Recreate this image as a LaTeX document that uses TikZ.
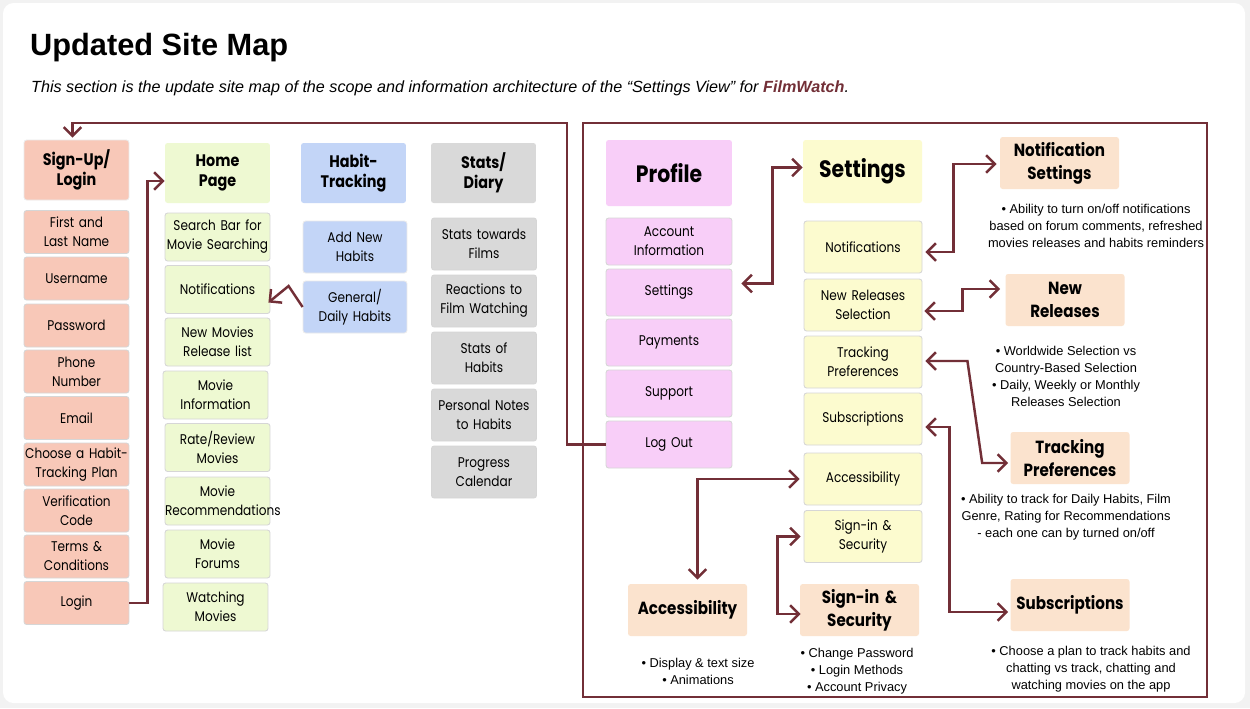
\documentclass[tikz,border=0pt]{standalone}
\usepackage{fontspec}
\setmainfont{Liberation Sans}
\newfontfamily\boxfont[FakeStretch=0.86]{Poppins}
\usetikzlibrary{arrows.meta,calc}

\definecolor{wine}{HTML}{722F37}
\definecolor{salmon}{HTML}{F8C8B8}
\definecolor{lime}{HTML}{EEF9D2}
\definecolor{sky}{HTML}{C3D5F7}
\definecolor{ash}{HTML}{D9D9D9}
\definecolor{orchid}{HTML}{F8CEF8}
\definecolor{cream}{HTML}{FCFBCF}
\definecolor{peach}{HTML}{FBE3CE}

\tikzset{
  barb/.tip={Straight Barb[length=5pt,width=10pt]},
  link/.style={draw=wine, line width=1.4pt},
  cell/.style={rectangle, rounded corners=1.5pt, align=center, inner xsep=0pt, inner ysep=1pt,
    font=\boxfont\fontsize{8}{10.8}\selectfont},
  item/.style={cell, draw=black!16, line width=0.5pt},
  head/.style={cell, font=\boxfont\bfseries\fontsize{9.5}{11.5}\selectfont},
  bighead/.style={cell, font=\boxfont\bfseries\fontsize{13.5}{16}\selectfont},
  detail/.style={cell, fill=peach, text width=2.38cm, minimum height=1.04cm,
    font=\boxfont\bfseries\fontsize{10}{13}\selectfont},
  note/.style={align=center, font=\fontsize{7.3}{9.6}\selectfont},
}

\begin{document}
\begin{tikzpicture}[x=0.02cm, y=-0.02cm]
    \useasboundingbox (0,0) rectangle (1250,708);
    \fill[black!5] (0,0) rectangle (1250,708);
    \fill[white, rounded corners=6pt] (3,3) rectangle (1245,703);

    \node[anchor=base west, font=\bfseries\fontsize{17.5}{20}\selectfont] (title) at (24,55) {Updated Site Map};
    \node[anchor=base west, font=\itshape\fontsize{9.2}{11}\selectfont] (subtitle) at (25,92)
        {This section is the update site map of the scope and information architecture of the “Settings View” for \textcolor{wine}{\textbf{FilmWatch}}.};

    % sign-up / login
    \node[item, head, draw=black!8, fill=salmon, text width=2.1cm, minimum height=1.2cm] (signup) at (76.5,170) {Sign-Up/\\Login};
    \node[item, fill=salmon, text width=2.1cm, minimum height=0.86cm] (fname) at (76.5,232) {First and\\Last Name};
    \node[item, fill=salmon, text width=2.1cm, minimum height=0.86cm] (uname) at (76.5,278.5) {Username};
    \node[item, fill=salmon, text width=2.1cm, minimum height=0.86cm] (pword) at (76.5,325.5) {Password};
    \node[item, fill=salmon, text width=2.1cm, minimum height=0.86cm] (phone) at (76.5,371.5) {Phone\\Number};
    \node[item, fill=salmon, text width=2.1cm, minimum height=0.86cm] (email) at (76.5,418) {Email};
    \node[item, fill=salmon, text width=2.1cm, minimum height=0.86cm] (plan) at (76.5,464.5) {Choose a Habit-\\Tracking Plan};
    \node[item, fill=salmon, text width=2.1cm, minimum height=0.86cm] (vcode) at (76.5,510.5) {Verification\\Code};
    \node[item, fill=salmon, text width=2.1cm, minimum height=0.86cm] (terms) at (76.5,556.5) {Terms \&\\Conditions};
    \node[item, fill=salmon, text width=2.1cm, minimum height=0.86cm] (login) at (76.5,603) {Login};

    % home page
    \node[head, fill=lime, text width=2.1cm, minimum height=1.2cm] (home) at (217.5,173) {Home\\Page};
    \node[item, fill=lime, text width=2.1cm, minimum height=0.96cm] (search) at (217.5,237) {Search Bar for\\Movie Searching};
    \node[item, fill=lime, text width=2.1cm, minimum height=0.96cm] (hnotif) at (217.5,289.5) {Notifications};
    \node[item, fill=lime, text width=2.1cm, minimum height=0.96cm] (newmov) at (217.5,342) {New Movies\\Release list};
    \node[item, fill=lime, text width=2.1cm, minimum height=0.96cm] (movinfo) at (215.5,395) {Movie\\Information};
    \node[item, fill=lime, text width=2.1cm, minimum height=0.96cm] (rate) at (217.5,447.5) {Rate/Review\\Movies};
    \node[item, fill=lime, text width=2.1cm, minimum height=0.96cm] (recom) at (217.5,501) {Movie\\Recommendations};
    \node[item, fill=lime, text width=2.1cm, minimum height=0.96cm] (forums) at (217.5,554) {Movie\\Forums};
    \node[item, fill=lime, text width=2.1cm, minimum height=0.96cm] (watch) at (215.5,607) {Watching\\Movies};

    % habit tracking
    \node[head, fill=sky, text width=2.1cm, minimum height=1.2cm] (habit) at (353.5,173) {Habit-\\Tracking};
    \node[item, draw=black!8, fill=sky, text width=2.08cm, minimum height=1.04cm] (addhab) at (355,247) {Add New\\Habits};
    \node[item, draw=black!8, fill=sky, text width=2.08cm, minimum height=1.04cm] (general) at (355,307) {General/\\Daily Habits};

    % stats / diary
    \node[head, fill=ash, text width=2.1cm, minimum height=1.2cm] (stats) at (483.5,173) {Stats/\\Diary};
    \node[item, fill=ash, text width=2.1cm, minimum height=1.04cm] (films) at (484,244) {Stats towards\\Films};
    \node[item, fill=ash, text width=2.1cm, minimum height=1.04cm] (react) at (484,301) {Reactions to\\Film Watching};
    \node[item, fill=ash, text width=2.1cm, minimum height=1.04cm] (shabit) at (484,358) {Stats of\\Habits};
    \node[item, fill=ash, text width=2.1cm, minimum height=1.04cm] (pnotes) at (484,415) {Personal Notes\\to Habits};
    \node[item, fill=ash, text width=2.1cm, minimum height=1.04cm] (calendar) at (484,472) {Progress\\Calendar};

    % profile
    \node[bighead, fill=orchid, text width=2.52cm, minimum height=1.32cm] (profile) at (669,173) {Profile};
    \node[item, fill=orchid, text width=2.52cm, minimum height=0.94cm] (account) at (669,241.5) {Account\\Information};
    \node[item, fill=orchid, text width=2.52cm, minimum height=0.94cm] (psettings) at (669,292.5) {Settings};
    \node[item, fill=orchid, text width=2.52cm, minimum height=0.94cm] (payments) at (669,342.5) {Payments};
    \node[item, fill=orchid, text width=2.52cm, minimum height=0.94cm] (support) at (669,393.5) {Support};
    \node[item, fill=orchid, text width=2.52cm, minimum height=0.94cm] (logout) at (669,444.5) {Log Out};

    % settings
    \node[bighead, fill=cream, text width=2.38cm, minimum height=1.26cm] (settings) at (862.5,171.5) {Settings};
    \node[item, fill=cream, text width=2.36cm, minimum height=1.04cm] (snotif) at (863,247) {Notifications};
    \node[item, fill=cream, text width=2.36cm, minimum height=1.04cm] (snewrel) at (863,305) {New Releases\\Selection};
    \node[item, fill=cream, text width=2.36cm, minimum height=1.04cm] (strack) at (863,362) {Tracking\\Preferences};
    \node[item, fill=cream, text width=2.36cm, minimum height=1.04cm] (ssubs) at (863,419) {Subscriptions};
    \node[item, fill=cream, text width=2.36cm, minimum height=1.04cm] (sacc) at (863,479) {Accessibility};
    \node[item, fill=cream, text width=2.36cm, minimum height=1.04cm] (ssign) at (863,536.5) {Sign-in \&\\Security};

    % detail boxes and notes
    \node[detail] (notifset) at (1059.5,163) {Notification\\Settings};
    \node[detail] (newrel) at (1065,300) {New\\Releases};
    \node[detail] (track) at (1070,458) {Tracking\\Preferences};
    \node[detail] (subs) at (1070,605) {Subscriptions};
    \node[detail] (acc) at (687.5,610) {Accessibility};
    \node[detail] (sign) at (859.5,610) {Sign-in \&\\Security};

    \node[note] (notifnote) at (1096,226) {\textbullet\ Ability to turn on/off notifications\\based on forum comments, refreshed\\movies releases and habits reminders};
    \node[note] (newrelnote) at (1066,376.5) {\textbullet\ Worldwide Selection vs\\Country-Based Selection\\\textbullet\ Daily, Weekly or Monthly\\Releases Selection};
    \node[note] (tracknote) at (1066,517) {\textbullet\ Ability to track for Daily Habits, Film\\Genre, Rating for Recommendations\\- each one can by turned on/off};
    \node[note] (subsnote) at (1091,669) {\textbullet\ Choose a plan to track habits and\\chatting vs track, chatting and\\watching movies on the app};
    \node[note] (accnote) at (698,671.5) {\textbullet\ Display \& text size\\\textbullet\ Animations};
    \node[note] (signnote) at (857,671) {\textbullet\ Change Password\\\textbullet\ Login Methods\\\textbullet\ Account Privacy};

    % frame and connectors
    \draw[wine, line width=1.4pt] (583,123) rectangle (1207,697);
    \coordinate (loop) at (567,123);
    \draw[link, -barb] (login.east) -- ++(18,0) |- ($(home.west)+(0,8)$);
    \draw[link, -barb] (logout.west) -| (loop) -| ($(signup.north)+(-4,-2)$);
    \draw[link, -barb] (general.west) -- ++(-14,-21) -- ($(hnotif.east)+(-2,13)$);
    \draw[link, barb-barb] ($(psettings.east)+(9,-9)$) -- ++(31,0) |- ($(settings.west)+(0,-4)$);
    \draw[link, barb-barb] ($(snotif.east)+(3,5)$) -- ++(28,0) |- ($(notifset.west)+(-3,1)$);
    \draw[link, barb-barb] ($(snewrel.east)+(2,6)$) -- ++(38,0) |- ($(newrel.west)+(-5,-11)$);
    \draw[link, barb-barb] ($(strack.east)+(3,-1)$) -- ++(42,0) -- ($(track.west)+(-28,5)$) -- ($(track.west)+(-2,5)$);
    \draw[link, barb-barb] ($(ssubs.east)+(3,8)$) -- ++(24,0) |- ($(subs.west)+(-2,7)$);
    \draw[link, barb-barb] ($(sacc.west)+(-4,0)$) -| ($(acc.north)+(10,-4)$);
    \draw[link, barb-barb] ($(ssign.west)+(-3,0)$) -- ++(-23,0) |- ($(sign.west)+(1,4)$);
\end{tikzpicture}
\end{document}
